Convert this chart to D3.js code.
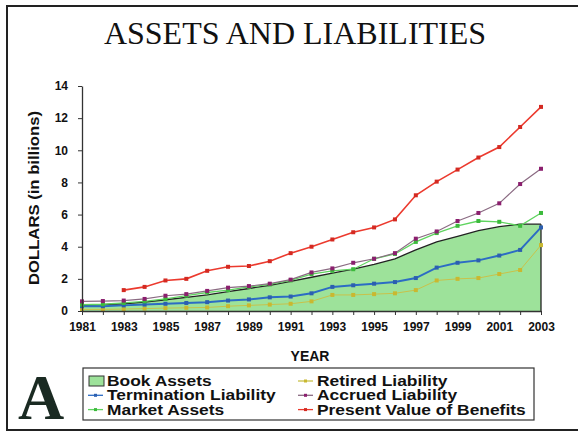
<!DOCTYPE html>
<html>
<head>
<meta charset="utf-8">
<script src="https://cdn.jsdelivr.net/npm/d3@7"></script>
<style>
  body { margin: 0; background: #fff; }
  svg { display: block; }
  .tick text { font-family: Arial, "Liberation Sans", sans-serif; font-weight: bold; font-size: 12px; fill: #111; }
</style>
</head>
<body>
<svg width="579" height="432"></svg>
<script>
// years on the x axis
var years = d3.range(1981, 2004);
var yearLabels = [1981, 1983, 1985, 1987, 1989, 1991, 1993, 1995, 1997, 1999, 2001, 2003];
var dollarTicks = [0, 2, 4, 6, 8, 10, 12, 14];

// values, billions of dollars
var bookAssets = [0.35, 0.4, 0.45, 0.55, 0.7, 0.85, 1.0, 1.2, 1.4, 1.6, 1.85, 2.1, 2.35, 2.6, 2.9, 3.25, 3.8, 4.3, 4.65, 5.0, 5.25, 5.4, 5.4];
var terminationLiability = [0.3, 0.3, 0.35, 0.4, 0.45, 0.5, 0.55, 0.65, 0.72, 0.85, 0.9, 1.1, 1.5, 1.6, 1.7, 1.8, 2.05, 2.7, 3.0, 3.15, 3.45, 3.8, 5.2];
var marketAssets = [0.4, 0.42, 0.5, 0.6, 0.75, 0.95, 1.15, 1.3, 1.5, 1.65, 1.9, 2.3, 2.5, 2.6, 3.25, 3.55, 4.3, 4.85, 5.3, 5.6, 5.55, 5.3, 6.1];
var retiredLiability = [0.1, 0.1, 0.12, 0.15, 0.18, 0.2, 0.22, 0.3, 0.35, 0.4, 0.45, 0.6, 1.0, 1.0, 1.05, 1.1, 1.3, 1.9, 2.0, 2.05, 2.3, 2.55, 4.1];
var accruedLiability = [0.6, 0.62, 0.65, 0.75, 0.95, 1.05, 1.25, 1.45, 1.55, 1.7, 1.95, 2.4, 2.65, 3.0, 3.25, 3.6, 4.5, 4.95, 5.6, 6.1, 6.7, 7.9, 8.85];
// no value before 1983
var presentValue = [null, null, 1.3, 1.5, 1.9, 2.0, 2.5, 2.75, 2.8, 3.1, 3.6, 4.0, 4.45, 4.9, 5.2, 5.7, 7.2, 8.05, 8.8, 9.55, 10.2, 11.45, 12.7];

var svg = d3.select("svg");

var x = d3.scaleLinear().domain([1981, 2003]).range([82, 541]);
var y = d3.scaleLinear().domain([0, 14]).range([311, 86]);

var sans = "Arial, 'Liberation Sans', sans-serif";
var serif = "'Liberation Serif', 'Times New Roman', serif";

// frame of the scanned figure
svg.append("path")
  .attr("d", "M578,6 H7 V430 H578")
  .attr("fill", "none").attr("stroke", "#222").attr("stroke-width", 2);

svg.append("text")
  .attr("x", 295).attr("y", 44)
  .attr("text-anchor", "middle")
  .style("font-family", serif)
  .style("font-size", "32px")
  .attr("fill", "#111")
  .text("ASSETS AND LIABILITIES");

// book assets: filled area with a black edge
var bookPts = years.map(function(d, i) { return [d, bookAssets[i]]; });
svg.append("path")
  .datum(bookPts)
  .attr("fill", "#9de29a")
  .attr("d", d3.area().x(function(d) { return x(d[0]); }).y0(y(0)).y1(function(d) { return y(d[1]); }));
svg.append("path")
  .datum(bookPts)
  .attr("fill", "none").attr("stroke", "#222").attr("stroke-width", 1.3)
  .attr("d", d3.line().x(function(d) { return x(d[0]); }).y(function(d) { return y(d[1]); }));
svg.append("line")
  .attr("x1", x(2003)).attr("x2", x(2003))
  .attr("y1", y(0)).attr("y2", y(bookAssets[bookAssets.length - 1]))
  .attr("stroke", "#222").attr("stroke-width", 1.3);

var series = [
  { name: "Retired Liability", values: retiredLiability, line: "#c9c24a", dot: "#c9b830", w: 1 },
  { name: "Termination Liability", values: terminationLiability, line: "#2c6cc4", dot: "#2c5fb0", w: 2 },
  { name: "Market Assets", values: marketAssets, line: "#5fd45f", dot: "#3cba3c", w: 1.3 },
  { name: "Accrued Liability", values: accruedLiability, line: "#8a6a82", dot: "#8b1f6e", w: 1.2 },
  { name: "Present Value of Benefits", values: presentValue, line: "#ec3a2e", dot: "#d42a22", w: 1.6 }
];

var line = d3.line()
  .defined(function(d) { return d[1] != null; })
  .x(function(d) { return x(d[0]); })
  .y(function(d) { return y(d[1]); });

series.forEach(function(s) {
  var pts = years.map(function(d, i) { return [d, s.values[i]]; });
  svg.append("path").datum(pts)
    .attr("fill", "none").attr("stroke", s.line).attr("stroke-width", s.w)
    .attr("d", line);
  svg.append("g").selectAll("rect")
    .data(pts.filter(function(d) { return d[1] != null; }))
    .enter().append("rect")
    .attr("x", function(d) { return x(d[0]) - 2; })
    .attr("y", function(d) { return y(d[1]) - 2; })
    .attr("width", 4).attr("height", 4)
    .attr("fill", s.dot);
});

// axes
var xAxis = d3.axisBottom(x).tickValues(years).tickSize(4).tickSizeOuter(0)
  .tickFormat(function(d) { return yearLabels.indexOf(d) >= 0 ? d : ""; });
var gx = svg.append("g").attr("transform", "translate(0," + y(0) + ")").call(xAxis);
gx.select(".domain").attr("stroke", "#333").attr("stroke-width", 1.3);
gx.selectAll(".tick line").attr("stroke", "#333");
gx.selectAll(".tick text").attr("dy", "1.1em");

var gy = svg.append("g").attr("transform", "translate(" + x(1981) + ",0)")
  .call(d3.axisLeft(y).tickValues(dollarTicks).tickSize(4).tickSizeOuter(0).tickPadding(10));
gy.select(".domain").attr("stroke", "#333").attr("stroke-width", 1.3);
gy.selectAll(".tick line").attr("stroke", "#333");

svg.append("text")
  .attr("transform", "translate(39,198) rotate(-90) scale(1.15,1)")
  .attr("text-anchor", "middle")
  .style("font-family", sans)
  .style("font-weight", "bold").style("font-size", "14.5px")
  .attr("fill", "#111")
  .text("DOLLARS (in billions)");

svg.append("text")
  .attr("x", 310).attr("y", 361)
  .attr("text-anchor", "middle")
  .style("font-family", sans)
  .style("font-weight", "bold").style("font-size", "14px")
  .attr("fill", "#111")
  .text("YEAR");

svg.append("text")
  .attr("x", 41).attr("y", 419)
  .attr("text-anchor", "middle")
  .style("font-family", serif)
  .style("font-weight", "bold").style("font-size", "64px")
  .attr("fill", "#1a2a22")
  .text("A");

// legend
var legend = svg.append("g");
legend.append("rect")
  .attr("x", 83).attr("y", 368).attr("width", 451).attr("height", 52)
  .attr("fill", "#fff").attr("stroke", "#333").attr("stroke-width", 1.2);

var legendItems = [
  { name: "Book Assets", col: 0, row: 0, box: true },
  { name: "Termination Liability", col: 0, row: 1, s: series[1] },
  { name: "Market Assets", col: 0, row: 2, s: series[2] },
  { name: "Retired Liability", col: 1, row: 0, s: series[0] },
  { name: "Accrued Liability", col: 1, row: 1, s: series[3] },
  { name: "Present Value of Benefits", col: 1, row: 2, s: series[4] }
];

legendItems.forEach(function(it) {
  var lx = it.col === 0 ? 88 : 298;
  var ly = 381 + it.row * 14.3;
  if (it.box) {
    legend.append("rect").attr("x", lx + 1).attr("y", ly - 5).attr("width", 15).attr("height", 10)
      .attr("fill", "#9de29a").attr("stroke", "#333").attr("stroke-width", 1);
  } else {
    legend.append("line").attr("x1", lx).attr("x2", lx + 15).attr("y1", ly).attr("y2", ly)
      .attr("stroke", it.s.line).attr("stroke-width", 1.3);
    legend.append("rect").attr("x", lx + 6).attr("y", ly - 1.5).attr("width", 3).attr("height", 3)
      .attr("fill", it.s.dot);
  }
  legend.append("text")
    .attr("transform", "translate(" + (lx + 19) + "," + (ly + 5) + ") scale(1.2,1)")
    .style("font-family", sans)
    .style("font-weight", "bold").style("font-size", "14.5px")
    .attr("fill", "#111")
    .text(it.name);
});
</script>
</body>
</html>
